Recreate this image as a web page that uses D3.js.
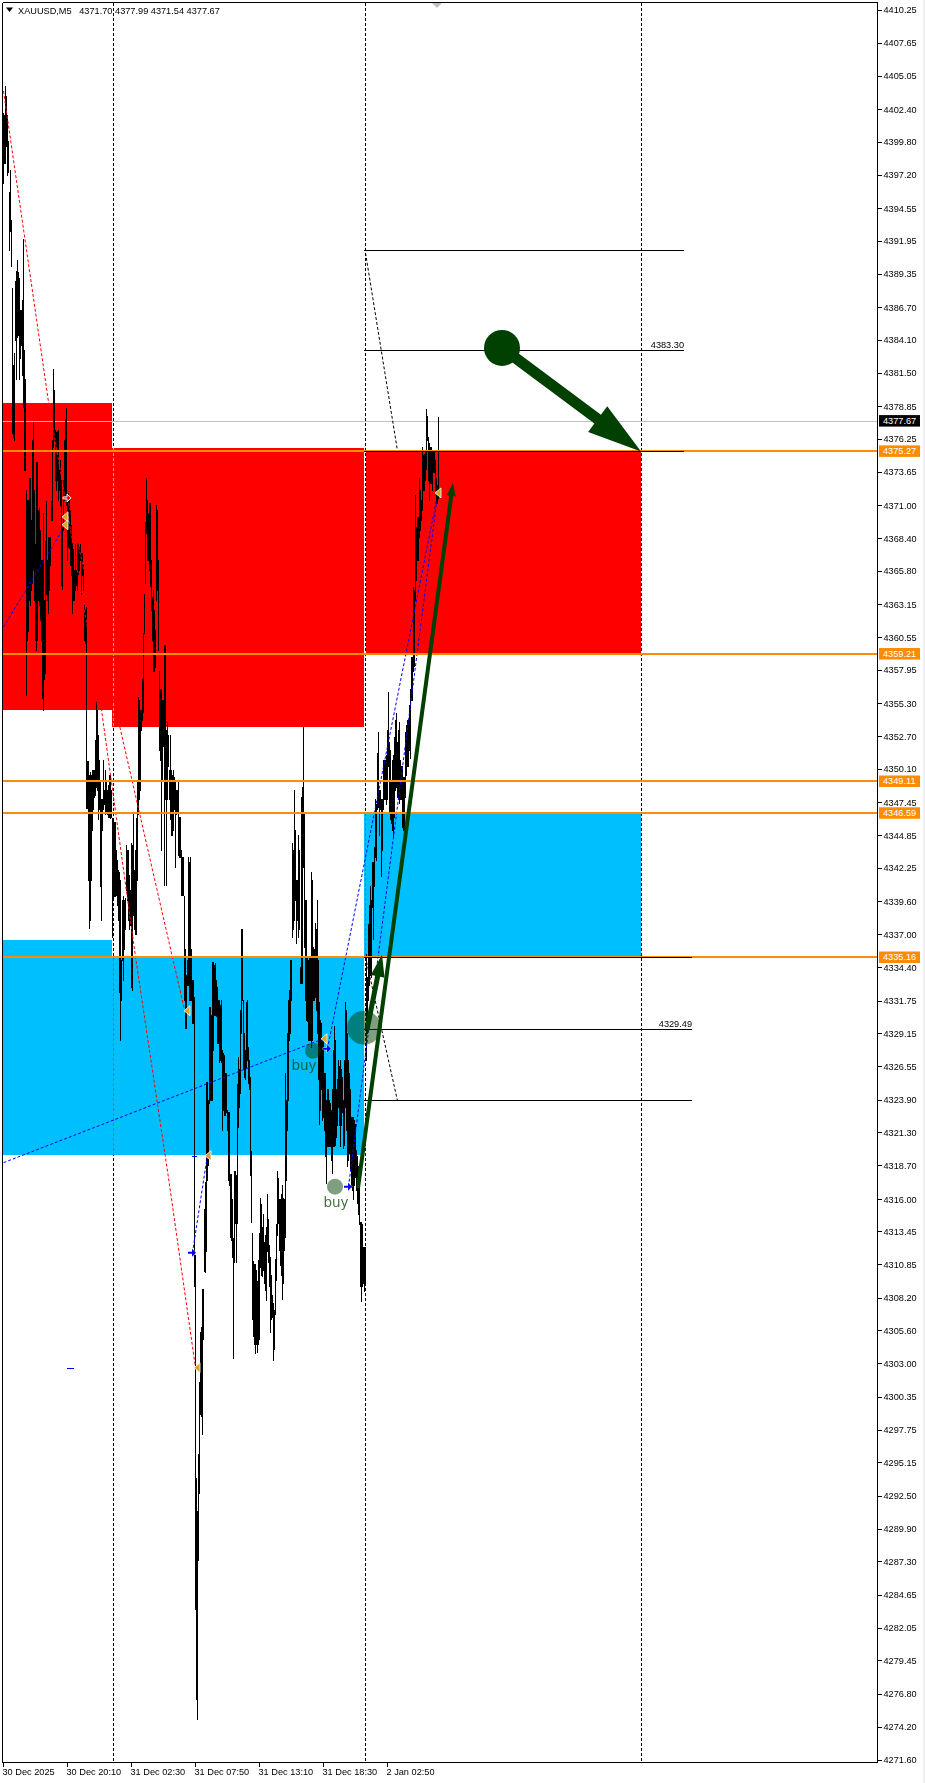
<!DOCTYPE html>
<html><head><meta charset="utf-8"><style>
html,body{margin:0;padding:0;background:#fff;overflow:hidden}
svg{display:block}
text{font-family:"Liberation Sans",Arial,sans-serif;font-size:9.2px;fill:#000}
</style></head><body>
<script src="https://cdn.jsdelivr.net/npm/d3@7/dist/d3.min.js"></script>
<script>
const barHigh=[4402.1,4401.9,4404.2,4403.4,4401.9,4399.9,4395.8,4397.6,4393.6,4388.2,4382.1,4383.1,4388.8,4389.6,4390.4,4389.5,4389.0,4386.5,4386.5,4387.3,4392.1,4383.3,4381.0,4372.2,4371.4,4371.4,4373.2,4373.2,4369.8,4376.2,4377.6,4372.2,4367.9,4374.4,4374.4,4370.6,4370.9,4369.0,4366.7,4366.7,4370.4,4363.5,4368.2,4371.3,4366.7,4368.5,4368.5,4368.5,4371.3,4376.2,4381.8,4380.1,4377.0,4376.8,4376.9,4377.0,4373.8,4374.6,4373.0,4369.3,4373.0,4376.2,4377.8,4378.7,4371.8,4372.0,4371.4,4370.6,4369.4,4368.0,4367.5,4365.9,4367.9,4365.9,4368.0,4367.9,4367.7,4367.9,4367.2,4367.2,4366.3,4363.1,4362.7,4362.9,4350.7,4350.7,4349.6,4349.9,4349.6,4350.0,4350.0,4350.0,4352.4,4355.4,4354.8,4352.8,4350.8,4349.2,4347.7,4347.7,4350.8,4348.4,4350.0,4349.2,4348.4,4348.8,4349.6,4349.6,4348.4,4346.2,4346.0,4345.9,4345.9,4343.7,4342.9,4342.1,4341.9,4341.3,4335.0,4339.7,4340.0,4339.7,4339.9,4344.1,4343.7,4343.7,4341.7,4340.5,4344.2,4344.1,4346.7,4342.1,4343.7,4346.2,4349.2,4355.8,4355.6,4354.8,4354.8,4357.2,4360.9,4364.0,4369.7,4373.2,4371.4,4370.4,4371.2,4371.2,4366.7,4363.7,4364.3,4362.7,4361.1,4371.0,4370.6,4366.7,4357.9,4356.4,4356.4,4355.6,4355.6,4359.9,4359.9,4353.2,4353.8,4352.8,4350.0,4352.8,4350.0,4349.6,4350.0,4349.5,4349.2,4348.4,4348.4,4349.2,4346.3,4346.3,4343.7,4343.1,4343.1,4340.0,4335.8,4333.8,4335.0,4343.1,4342.7,4343.1,4335.8,4333.4,4333.4,4332.0,4311.6,4293.9,4291.3,4295.8,4301.5,4305.5,4305.9,4308.9,4308.9,4315.2,4317.4,4325.3,4325.3,4323.9,4331.2,4331.2,4330.6,4334.8,4334.8,4334.6,4334.7,4333.4,4332.8,4331.8,4331.8,4331.4,4331.8,4327.8,4327.6,4327.4,4326.0,4326.0,4323.1,4322.9,4322.9,4318.0,4318.0,4316.0,4312.9,4318.2,4318.2,4317.9,4325.1,4327.3,4326.3,4331.0,4337.4,4337.4,4331.8,4329.2,4327.8,4331.6,4331.8,4328.1,4327.0,4325.7,4319.8,4313.3,4311.1,4310.9,4310.9,4310.4,4309.5,4311.2,4313.3,4316.1,4315.6,4313.8,4314.8,4312.6,4313.2,4313.8,4316.4,4314.4,4312.4,4311.4,4310.0,4308.4,4307.8,4307.2,4311.3,4314.0,4318.2,4317.7,4316.0,4316.0,4316.4,4317.1,4316.1,4316.0,4326.0,4323.9,4329.2,4331.8,4332.6,4335.0,4335.0,4344.2,4343.7,4348.4,4345.3,4341.3,4341.3,4344.9,4343.7,4334.4,4347.9,4348.7,4353.4,4346.5,4339.7,4339.7,4335.2,4335.0,4335.2,4335.2,4341.9,4341.3,4336.0,4335.8,4337.9,4337.4,4339.7,4335.0,4331.6,4330.2,4330.0,4328.6,4328.9,4326.0,4326.0,4323.9,4324.7,4324.7,4323.9,4323.6,4323.1,4324.7,4327.8,4329.7,4328.6,4324.7,4325.5,4327.0,4326.6,4327.0,4326.3,4325.7,4323.9,4327.0,4331.6,4331.0,4329.2,4327.0,4326.0,4324.7,4322.5,4322.5,4322.5,4322.3,4322.0,4319.9,4319.4,4318.6,4318.3,4314.2,4314.2,4314.0,4312.2,4312.2,4312.2,4335.4,4333.6,4337.8,4339.3,4340.8,4339.7,4342.7,4342.7,4343.9,4347.7,4347.3,4351.4,4353.0,4348.4,4348.4,4347.7,4347.7,4350.8,4350.8,4350.8,4351.2,4353.2,4356.2,4352.2,4351.6,4349.2,4350.8,4351.2,4352.6,4354.0,4354.5,4352.2,4353.2,4353.8,4350.8,4350.3,4350.3,4349.5,4349.5,4353.0,4353.6,4354.0,4354.0,4355.2,4356.4,4359.0,4359.0,4364.5,4364.3,4371.8,4369.3,4370.1,4370.1,4373.2,4372.2,4371.4,4375.6,4375.0,4375.1,4375.4,4378.6,4378.1,4376.4,4375.9,4375.6,4375.6,4375.4,4375.4,4375.4,4374.6,4373.2,4372.6,4377.99];
const barLow=[4396.5,4398.1,4398.1,4399.5,4397.2,4397.4,4391.2,4392.7,4390.0,4376.7,4376.4,4376.2,4384.1,4381.0,4384.3,4384.5,4381.0,4382.7,4383.7,4381.3,4378.8,4373.8,4373.8,4356.0,4360.3,4361.0,4363.5,4363.1,4364.3,4364.8,4365.9,4363.5,4360.3,4359.5,4360.3,4363.5,4363.1,4361.9,4360.3,4355.7,4354.8,4357.2,4357.7,4364.0,4363.5,4362.5,4364.3,4366.3,4369.8,4369.8,4375.6,4376.2,4373.0,4372.2,4373.0,4371.4,4372.2,4371.0,4364.7,4364.4,4369.0,4371.4,4371.8,4371.0,4366.7,4367.7,4367.6,4366.3,4365.5,4362.5,4363.5,4363.5,4364.3,4364.7,4364.3,4365.5,4365.9,4366.7,4364.0,4365.5,4364.3,4360.3,4360.1,4347.0,4347.0,4341.3,4337.5,4338.1,4341.3,4345.3,4346.9,4347.9,4348.0,4348.7,4348.4,4346.1,4346.9,4340.8,4338.1,4345.3,4346.9,4347.3,4346.5,4346.6,4346.5,4346.3,4346.3,4346.2,4346.3,4336.8,4339.7,4340.0,4340.0,4340.1,4339.3,4338.1,4332.4,4328.6,4331.8,4335.0,4333.4,4335.8,4337.4,4340.5,4339.7,4338.1,4337.4,4337.7,4332.8,4332.6,4338.5,4337.4,4337.0,4337.0,4341.3,4346.5,4347.7,4348.4,4353.2,4354.0,4354.6,4360.9,4364.8,4368.8,4366.7,4366.7,4365.9,4364.6,4362.7,4360.3,4357.9,4357.9,4358.2,4363.5,4364.3,4359.5,4351.6,4350.8,4343.7,4349.2,4351.9,4340.9,4347.7,4340.9,4347.7,4350.3,4347.7,4346.1,4344.9,4344.9,4345.3,4346.9,4342.3,4346.5,4346.6,4343.3,4343.1,4343.1,4340.1,4340.1,4340.1,4331.8,4329.6,4329.6,4333.0,4333.0,4331.8,4331.8,4331.8,4330.0,4330.0,4309.1,4283.5,4276.4,4274.8,4287.4,4292.7,4299.0,4298.8,4297.4,4304.9,4310.3,4310.2,4311.9,4317.5,4318.7,4323.6,4323.9,4323.9,4323.9,4327.8,4330.6,4330.6,4330.5,4328.4,4328.4,4326.9,4327.0,4326.9,4321.5,4323.1,4322.7,4322.7,4322.9,4321.5,4317.5,4317.1,4313.0,4312.8,4311.4,4303.4,4311.0,4314.1,4311.0,4314.1,4321.7,4323.3,4324.4,4329.2,4331.8,4326.3,4325.7,4325.5,4326.5,4327.0,4325.2,4324.7,4317.9,4314.2,4306.5,4305.2,4304.5,4303.8,4304.5,4303.9,4304.5,4304.9,4310.6,4310.0,4309.9,4310.4,4309.4,4308.8,4308.0,4311.9,4311.0,4309.1,4305.5,4306.5,4306.7,4303.3,4304.1,4306.9,4309.6,4313.2,4314.1,4312.0,4310.8,4310.0,4308.1,4309.4,4312.0,4313.0,4317.5,4321.5,4323.9,4328.6,4329.2,4331.8,4336.8,4337.4,4338.1,4339.7,4336.3,4338.1,4336.8,4337.4,4333.1,4333.1,4333.1,4342.3,4336.0,4331.8,4330.2,4330.1,4328.6,4328.6,4328.6,4328.1,4328.6,4331.8,4331.8,4332.0,4331.0,4329.2,4325.5,4322.0,4323.1,4324.7,4322.3,4322.5,4321.5,4319.4,4317.3,4320.2,4320.2,4320.2,4320.2,4319.1,4318.1,4320.2,4320.2,4320.3,4320.9,4321.9,4323.3,4321.9,4320.2,4321.9,4322.9,4320.1,4320.3,4323.3,4321.5,4318.6,4319.1,4319.7,4318.3,4317.0,4316.7,4316.0,4317.1,4317.8,4316.7,4315.7,4314.8,4314.0,4309.1,4307.9,4309.1,4309.4,4308.7,4309.4,4327.0,4329.2,4331.8,4333.0,4333.8,4333.6,4339.2,4336.6,4340.8,4343.1,4342.9,4346.9,4347.1,4344.9,4346.9,4341.6,4343.7,4346.9,4347.7,4347.7,4347.3,4347.7,4350.3,4346.6,4346.1,4345.8,4345.3,4344.7,4346.3,4348.4,4348.7,4347.9,4347.7,4347.4,4347.7,4347.7,4345.5,4345.3,4345.3,4347.9,4349.6,4350.3,4350.3,4351.6,4351.0,4355.6,4355.6,4357.9,4358.3,4363.5,4365.1,4366.7,4366.7,4368.5,4369.0,4369.8,4370.6,4372.2,4372.2,4373.0,4373.9,4376.2,4373.0,4371.4,4372.8,4372.8,4372.2,4373.6,4373.6,4372.2,4371.2,4371.2,4371.54];
const priceTicks=[4410.25,4407.65,4405.05,4402.40,4399.80,4397.20,4394.55,4391.95,4389.35,4386.70,4384.10,4381.50,4378.85,4376.25,4373.65,4371.00,4368.40,4365.80,4363.15,4360.55,4357.95,4355.30,4352.70,4350.10,4347.45,4344.85,4342.25,4339.60,4337.00,4334.40,4331.75,4329.15,4326.55,4323.90,4321.30,4318.70,4316.00,4313.45,4310.85,4308.20,4305.60,4303.00,4300.35,4297.75,4295.15,4292.50,4289.90,4287.30,4284.65,4282.05,4279.45,4276.80,4274.20,4271.60];
const timeTickBars=[0,64,128,192,256,320,384];
const timeTickLabels=["30 Dec 2025","30 Dec 20:10","31 Dec 02:30","31 Dec 07:50","31 Dec 13:10","31 Dec 18:30","2 Jan 02:50"];
const redZones=[[0,109,4379.1,4354.8],[109,361,4375.55,4353.4],[363,638,4375.27,4359.21]];
const blueZones=[[0,109,4336.55,4319.5],[109,361,4335.1,4319.5],[361,638,4346.59,4335.16]];
const orangeLevels=[4375.27,4359.21,4349.11,4346.59,4335.16];
const lastPrice=4377.67;
const verticalBars=[110,362,638];
const blackLevels=[[361,681,4391.2],[361,681,4383.30],[361,681,4375.27],[361,689,4335.16],[361,689,4329.49],[361,689,4323.8]];
const levelLabels=[[681,4383.30,"4383.30"],[689,4329.49,"4329.49"]];
const redPaths=[[[0,4403.83],[45,4379.19],[98,4354.79],[132,4335.22],[165,4317.7],[192,4302.65]],[[64,4371.58],[181,4331.0]]];
const bluePaths=[[[0,4318.9],[320,4328.72]],[[0,4361.36],[59,4369.05]],[[189,4311.76],[204,4319.53]],[[324,4327.93],[433,4371.43]],[[345,4317.0],[433,4371.19]]];
const blackPaths=[[[362,4391.0],[394,4375.31]],[[362,4335.2],[394,4323.8]]];
const blueDashes=[[64,71,4302.57],[189,194,4319.4]];
const goldMarks=[[62,4370.08],[62,4369.45],[184,4330.94],[205,4319.45],[194,4302.65],[321,4328.72],[435,4371.98]];
const blueMarks=[[189,4311.76],[345,4317.0],[324,4327.93]];
const redMarks=[[64,4371.58]];
const softCircles=[[310,4327.77,8],[332,4317.0,8],[361,4329.6,17]];
const solidCircles=[[499,4383.47,18]];
const buyLabels=[[301,4326.26,"buy"],[333,4315.4,"buy"]];
const arrows=[[499,4383.47,638,4375.27,11,54,32],[355,4316.9,450,4372.77,4,13,9],[364,4329.43,379,4335.38,5,22,14]];
const headerText="XAUUSD,M5   4371.70 4377.99 4371.54 4377.67";

const W=925,H=1783,AX=877,BY=1762;
const x=d3.scaleLinear().domain([0,874]).range([3,AX]);
const y=d3.scaleLinear().domain([4271.60,4410.25]).range([1759.5,10]);
const svg=d3.select("body").append("svg").attr("width",W).attr("height",H);
svg.append("rect").attr("width",W).attr("height",H).attr("fill","#fff");
svg.append("rect").attr("x",923).attr("width",2).attr("height",H).attr("fill","#f0f0f0");

const zone=(data,color)=>svg.append("g").selectAll("rect").data(data).join("rect")
 .attr("x",d=>x(d[0])).attr("width",d=>x(d[1])-x(d[0])).attr("y",d=>y(d[2])).attr("height",d=>y(d[3])-y(d[2])).attr("fill",color).attr("shape-rendering","crispEdges");
zone(redZones,"#ff0000");zone(blueZones,"#00bfff");

svg.append("g").selectAll("line").data(verticalBars).join("line")
 .attr("x1",d=>x(d)+.5).attr("x2",d=>x(d)+.5).attr("y1",3).attr("y2",BY)
 .attr("stroke","#fff").attr("stroke-dasharray","3 2").attr("shape-rendering","crispEdges").style("mix-blend-mode","difference");

const snap=v=>Math.floor(v)+.5;
svg.append("line").attr("x1",3).attr("x2",AX).attr("y1",snap(y(lastPrice))).attr("y2",snap(y(lastPrice))).attr("stroke","#c0c0c0").attr("shape-rendering","crispEdges");

svg.append("g").selectAll("line").data(barHigh).join("line")
 .attr("x1",(d,i)=>x(i)+.5).attr("x2",(d,i)=>x(i)+.5).attr("y1",d=>y(d)).attr("y2",(d,i)=>y(barLow[i])+1)
 .attr("stroke","#000").attr("shape-rendering","crispEdges");

const line=d3.line().x(d=>x(d[0])+.5).y(d=>y(d[1]));
const dotted=(data,color)=>svg.append("g").selectAll("path").data(data).join("path").attr("d",line).attr("fill","none").attr("stroke",color).attr("stroke-dasharray","3 2");
dotted(redPaths,"#ff0000");dotted(bluePaths,"#0000ff");dotted(blackPaths,"#000");
svg.append("g").selectAll("line").data(blueDashes).join("line").attr("x1",d=>x(d[0])).attr("x2",d=>x(d[1])).attr("y1",d=>snap(y(d[2]))).attr("y2",d=>snap(y(d[2]))).attr("stroke","#0000ff").attr("shape-rendering","crispEdges");

svg.append("g").selectAll("line").data(orangeLevels).join("line")
 .attr("x1",3).attr("x2",AX).attr("y1",d=>Math.round(y(d))).attr("y2",d=>Math.round(y(d))).attr("stroke","#ff8c00").attr("stroke-width",2).attr("shape-rendering","crispEdges");
svg.append("g").selectAll("line").data(blackLevels).join("line")
 .attr("x1",d=>x(d[0])).attr("x2",d=>x(d[1])).attr("y1",d=>snap(y(d[2]))).attr("y2",d=>snap(y(d[2]))).attr("stroke","#000").attr("shape-rendering","crispEdges");
svg.append("g").selectAll("text").data(levelLabels).join("text")
 .attr("x",d=>x(d[0])).attr("y",d=>y(d[1])-2).attr("text-anchor","end").text(d=>d[2]);

svg.append("g").selectAll("circle").data(softCircles).join("circle")
 .attr("cx",d=>x(d[0])).attr("cy",d=>y(d[1])).attr("r",d=>d[2]).attr("fill","#004000").attr("fill-opacity",.5);
svg.append("g").selectAll("circle").data(solidCircles).join("circle")
 .attr("cx",d=>x(d[0])).attr("cy",d=>y(d[1])).attr("r",d=>d[2]).attr("fill","#004000");
svg.append("g").selectAll("text").data(buyLabels).join("text")
 .attr("x",d=>x(d[0])).attr("y",d=>y(d[1])).attr("text-anchor","middle").style("font-family","DejaVu Sans").style("font-size","13.5px").style("fill","#004000").attr("fill-opacity",.75).text(d=>d[2]);

arrows.forEach(a=>{
 const x0=x(a[0]),y0=y(a[1]),x1=x(a[2]),y1=y(a[3]),ang=Math.atan2(y1-y0,x1-x0)*180/Math.PI;
 const len=Math.hypot(x1-x0,y1-y0),w=a[4],hl=a[5],hw=a[6];
 svg.append("path").attr("transform",`translate(${x0},${y0}) rotate(${ang})`)
  .attr("d",d3.line()([[0,-w/2],[len-hl,-w/2],[len-hl,-hw/2],[len,0],[len-hl,hw/2],[len-hl,w/2],[0,w/2]])+"Z").attr("fill","#004000");
});

const tri=d3.line()([[-3,0],[3,-5],[3,5]])+"Z";
svg.append("g").selectAll("path").data(goldMarks).join("path").attr("d",tri)
 .attr("transform",d=>`translate(${x(d[0])},${y(d[1])})`).attr("fill","#daa520").attr("stroke","#fff").attr("stroke-width",.8);
const arrowShape=d3.line()([[-4,-1],[0,-1],[0,-4],[4,0],[0,4],[0,1],[-4,1]])+"Z";
svg.append("g").selectAll("path").data(blueMarks).join("path").attr("d",arrowShape)
 .attr("transform",d=>`translate(${x(d[0])},${y(d[1])})`).attr("fill","#0000ff").attr("stroke","#fff").attr("stroke-width",.8).style("paint-order","stroke");
svg.append("g").selectAll("path").data(redMarks).join("path").attr("d",arrowShape)
 .attr("transform",d=>`translate(${x(d[0])},${y(d[1])})`).attr("fill","#ff0000").attr("stroke","#fff");

const clean=g=>{g.selectAll("path.domain").attr("stroke","#000").attr("shape-rendering","crispEdges");g.selectAll("line").attr("stroke","#000").attr("shape-rendering","crispEdges");g.selectAll("text").style("fill","#000");};
svg.append("g").attr("transform",`translate(${AX+.5},0)`)
 .call(d3.axisRight(y).tickValues(priceTicks).tickFormat(d3.format(".2f")).tickSize(4).tickSizeOuter(0).tickPadding(2))
 .call(g=>{g.attr("font-family",null).attr("font-size",null);g.select("path.domain").attr("d",`M0,2.5V${BY+.5}`);clean(g);});
const tSet=d3.scaleOrdinal().domain(timeTickBars).range(timeTickLabels);
svg.append("g").attr("transform",`translate(0,${BY+.5})`)
 .call(d3.axisBottom(x).tickValues(timeTickBars).tickFormat(d=>tSet(d)).tickSize(4).tickSizeOuter(0).tickPadding(2))
 .call(g=>{g.attr("font-family",null).attr("font-size",null);g.select("path.domain").attr("d",`M2.5,0H${AX+.5}`);clean(g);g.selectAll("text").attr("text-anchor","start").attr("x",-1);});

svg.append("path").attr("d",`M2.5,2.5H${AX+.5}M2.5,2.5V${BY+.5}`).attr("stroke","#000").attr("fill","none").attr("shape-rendering","crispEdges");

const tag=(p,c)=>{const g=svg.append("g").attr("transform",`translate(879,${y(p)})`);
 g.append("rect").attr("y",-6).attr("width",41).attr("height",11.5).attr("fill",c);
 g.append("text").attr("x",4).attr("y",3).style("fill","#fff").text(p.toFixed(2));};
orangeLevels.forEach(p=>tag(p,"#ff8c00"));tag(lastPrice,"#000");

svg.append("path").attr("d","M6,7.5H13L9.5,12Z").attr("fill","#000");
svg.append("text").attr("x",18).attr("y",14).attr("xml:space","preserve").style("white-space","pre").text(headerText);
svg.append("path").attr("d","M432,3H442L437,8Z").attr("fill","#c0c0c0");
</script></body></html>
